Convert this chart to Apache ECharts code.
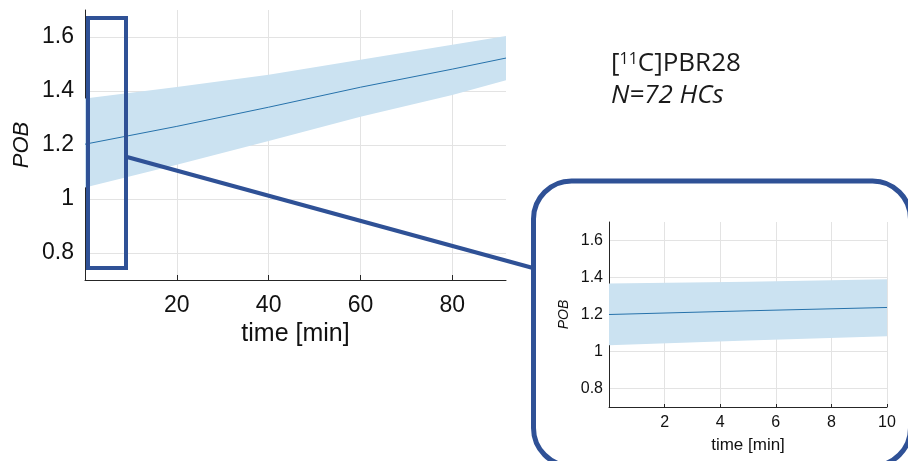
<!DOCTYPE html>
<html>
<head>
<meta charset="utf-8">
<script src="https://cdn.jsdelivr.net/npm/echarts@6/dist/echarts.min.js"></script>
<style>html,body{margin:0;padding:0;background:#fff}#c{width:908px;height:461px}</style>
</head>
<body>
<div id="c"></div>
<script>
// ---- data ----
var mainTime  = [0, 20, 40, 60, 80, 91.7];
var mainMean  = [1.203, 1.269, 1.340, 1.414, 1.481, 1.522];
var mainUpper = [1.372, 1.415, 1.460, 1.516, 1.571, 1.604];
var mainLower = [1.043, 1.127, 1.215, 1.305, 1.385, 1.440];

var zoomTime  = [0, 5, 10];
var zoomMean  = [1.200, 1.220, 1.238];
var zoomUpper = [1.368, 1.377, 1.391];
var zoomLower = [1.034, 1.059, 1.083];

var mainXTicks = [20, 40, 60, 80];
var zoomXTicks = [2, 4, 6, 8, 10];
var yTicks = [0.8, 1.0, 1.2, 1.4, 1.6];

var xName = 'time [min]';
var yName = 'POB';
var tracer = 'PBR28';
var cohort = 'N=72 HCs';

// ---- build ----
function pairs(xs, ys) { return xs.map(function (x, i) { return [x, ys[i]]; }); }

var BAND = '#CBE2F1';
var LINE = '#2672AB';
var NAVY = '#2F5196';
var AX = '#262626';
var GRIDC = '#E3E3E3';
var FONT = '"Liberation Sans", Arial, sans-serif';

function yLabel(v) {
  var r = Math.round(v * 10) / 10;
  return (r === 1 ? '1' : r.toString());
}

function makeAxes(gi, xmax, xticks, fs, nfs, ynfs, xNameGap, yNameGap, xMargin, yMargin, tickLen) {
  return {
    x: {
      type: 'value', gridIndex: gi, min: 0, max: xmax,
      name: xName, nameLocation: 'middle', nameGap: xNameGap,
      nameTextStyle: { fontFamily: FONT, fontSize: nfs, color: '#111' },
      axisLine: { show: true, onZero: false, lineStyle: { color: AX, width: 1 } },
      axisTick: { show: true, inside: true, length: tickLen, customValues: xticks, lineStyle: { color: AX } },
      axisLabel: { customValues: xticks, fontFamily: FONT, fontSize: fs, color: '#111', margin: xMargin },
      splitLine: { show: true, lineStyle: { color: GRIDC, width: 1 } }
    },
    y: {
      type: 'value', gridIndex: gi, min: 0.7, max: 1.7,
      name: yName, nameLocation: 'middle', nameGap: yNameGap,
      nameTextStyle: { fontFamily: FONT, fontSize: ynfs, fontStyle: 'italic', color: '#111' },
      axisLine: { show: true, onZero: false, lineStyle: { color: AX, width: 1 } },
      axisTick: { show: false, customValues: yTicks },
      axisLabel: { customValues: yTicks, formatter: yLabel, fontFamily: FONT, fontSize: fs, color: '#111', margin: yMargin },
      splitLine: { show: true, lineStyle: { color: GRIDC, width: 1 } }
    }
  };
}

var a1 = makeAxes(0, 91.7, mainXTicks, 23, 25, 22, 40, 52, 14, 11, 5);
var a2 = makeAxes(1, 10, zoomXTicks, 16, 17, 14, 30, 38, 8, 6, 3);

function bandSeries(xi, time, lower, upper, mean) {
  return [
    { type: 'custom', xAxisIndex: xi, yAxisIndex: xi, silent: true, z: 2, clip: true,
      data: [[time[0], lower[0]]],
      renderItem: function (params, api) {
        var pts = [];
        for (var i = 0; i < time.length; i++) pts.push(api.coord([time[i], upper[i]]));
        for (var j = time.length - 1; j >= 0; j--) pts.push(api.coord([time[j], lower[j]]));
        return { type: 'polygon', shape: { points: pts }, style: { fill: BAND } };
      } },
    { type: 'line', xAxisIndex: xi, yAxisIndex: xi, data: pairs(time, mean),
      symbol: 'none', lineStyle: { color: LINE, width: 1 }, silent: true, z: 3 }
  ];
}

var chart = echarts.init(document.getElementById('c'), null, { renderer: 'canvas' });
chart.setOption({
  animation: false,
  backgroundColor: '#fff',
  grid: [
    { left: 85, right: 402, top: 10, bottom: 181 },
    { left: 609, right: 21, top: 222, bottom: 54 }
  ],
  xAxis: [a1.x, a2.x],
  yAxis: [a1.y, a2.y],
  series: [].concat(
    bandSeries(0, mainTime, mainLower, mainUpper, mainMean),
    bandSeries(1, zoomTime, zoomLower, zoomUpper, zoomMean)
  ),
  graphic: [
    { type: 'rect', z: 100, shape: { x: 88, y: 18, width: 38, height: 250 },
      style: { fill: null, stroke: NAVY, lineWidth: 4 } },
    { type: 'line', z: 100, shape: { x1: 127, y1: 157, x2: 533, y2: 268 },
      style: { stroke: NAVY, lineWidth: 4 } },
    { type: 'rect', z: 100, shape: { x: 533.5, y: 181, width: 377, height: 285, r: 38 },
      style: { fill: null, stroke: NAVY, lineWidth: 5 } },
    { type: 'text', z: 100, left: 611, top: 51,
      style: {
        text: '[{s|11}C]' + tracer,
        font: '26px "Open Sans", sans-serif', fill: '#1a1a1a',
        rich: { s: { fontSize: 16, fontFamily: 'Open Sans', verticalAlign: 'top', fill: '#1a1a1a', padding: [0, 0, 9, 0] } }
      } },
    { type: 'text', z: 100, left: 611, top: 83,
      style: { text: cohort, font: 'italic 26px "Open Sans", sans-serif', fill: '#1a1a1a' } }
  ]
});
</script>
</body>
</html>
